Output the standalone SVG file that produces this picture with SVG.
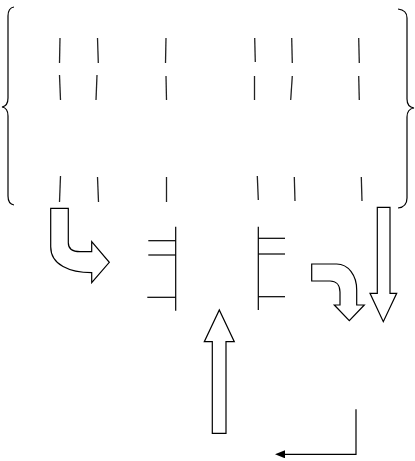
<svg xmlns="http://www.w3.org/2000/svg" width="415" height="461" viewBox="0 0 415 461">
<style>
.s{fill:none;stroke:#000;stroke-width:1.2}
.b{fill:#fff;stroke:#000;stroke-width:1.2;stroke-linejoin:miter}
.t{stroke:#222;stroke-width:1.3;fill:none}
</style>
<defs>
<marker id="ah" viewBox="0 0 10 8" refX="0" refY="4" markerWidth="10" markerHeight="8" markerUnits="userSpaceOnUse" orient="auto">
<path d="M0,0 L10,4 L0,8 Z" fill="#000"/>
</marker>
</defs>
<rect width="415" height="461" fill="#fff"/>
<g id="left-brace"><path class="s" d="M14,7 Q8,8 8,16 L8,98 Q8,106 2,107 Q8,108 8,116 L8,196 Q8,204 14,205"/></g>
<g id="right-brace"><path class="s" d="M398,9 Q407,10 407,18 L407,99 Q407,107 414,108 Q407,109 407,117 L407,198 Q407,207 398,208"/></g>
<g id="ticks" class="t">
<line x1="60" y1="38" x2="59.5" y2="63"/><line x1="59.5" y1="75" x2="60.5" y2="100"/><line x1="60.5" y1="176" x2="59.5" y2="202"/>
<line x1="97.5" y1="38" x2="98.3" y2="63"/><line x1="97" y1="75" x2="96" y2="100"/><line x1="97.5" y1="177" x2="98.5" y2="202"/>
<line x1="166" y1="38" x2="165.5" y2="63"/><line x1="166" y1="76" x2="166.5" y2="100"/><line x1="166.5" y1="177" x2="166.5" y2="202"/>
<line x1="254.7" y1="38" x2="255.3" y2="62"/><line x1="254.5" y1="76" x2="254.5" y2="100"/><line x1="257.3" y1="176" x2="258.3" y2="200"/>
<line x1="291.7" y1="38" x2="292.3" y2="63"/><line x1="292.3" y1="76" x2="290.7" y2="100"/><line x1="294.3" y1="177" x2="295" y2="201"/>
<line x1="358.7" y1="38" x2="359.3" y2="63"/><line x1="358.7" y1="76" x2="359.3" y2="100"/><line x1="361.3" y1="177" x2="362" y2="201"/>
</g>
<g id="curved-arrow-left"><path class="b" d="M50.7,208.3 L68.3,208.3 L68.3,242.7 Q68.3,251.7 80,251.7 L91.7,251.7 L91.7,241.7 L109.3,262.3 L91.7,282.7 L91.7,272.7 C70,272.7 50.7,265 50.7,246.7 Z"/></g>
<g id="bracket-left" class="s">
<line x1="175.7" y1="226.7" x2="175.7" y2="310.7"/>
<line x1="148.3" y1="240.7" x2="175.7" y2="240.7"/>
<line x1="148.3" y1="255" x2="175.7" y2="255"/>
<line x1="147.3" y1="297.3" x2="175.7" y2="297.3"/>
</g>
<g id="bracket-right" class="s">
<line x1="258.3" y1="226.7" x2="258.3" y2="310"/>
<line x1="258.3" y1="238.3" x2="285" y2="238.3"/>
<line x1="258.3" y1="254" x2="285" y2="254"/>
<line x1="258.3" y1="296.7" x2="285" y2="296.7"/>
</g>
<g id="curved-arrow-right"><path class="b" d="M311.7,264 L336.7,264 C348,264 356.7,275 356.7,290 L356.7,305 L364.3,305 L349.3,320.7 L334.3,305 L340,305 L340,292 C340,285 336,281 330,281 L311.7,281 Z"/></g>
<g id="down-arrow"><path class="b" d="M377.3,207.3 L390,207.3 L390,293.3 L396.7,293.3 L383.3,321.7 L370,293.3 L377.3,293.3 Z"/></g>
<g id="up-arrow"><path class="b" d="M212.3,433.3 L226,433.3 L226,341.7 L234.3,341.7 L219.3,310 L204.3,341.7 L212.3,341.7 Z"/></g>
<g id="connectors"><path class="s" d="M356,409.3 L356,454.3 L285,454.3" marker-end="url(#ah)"/></g>
</svg>
